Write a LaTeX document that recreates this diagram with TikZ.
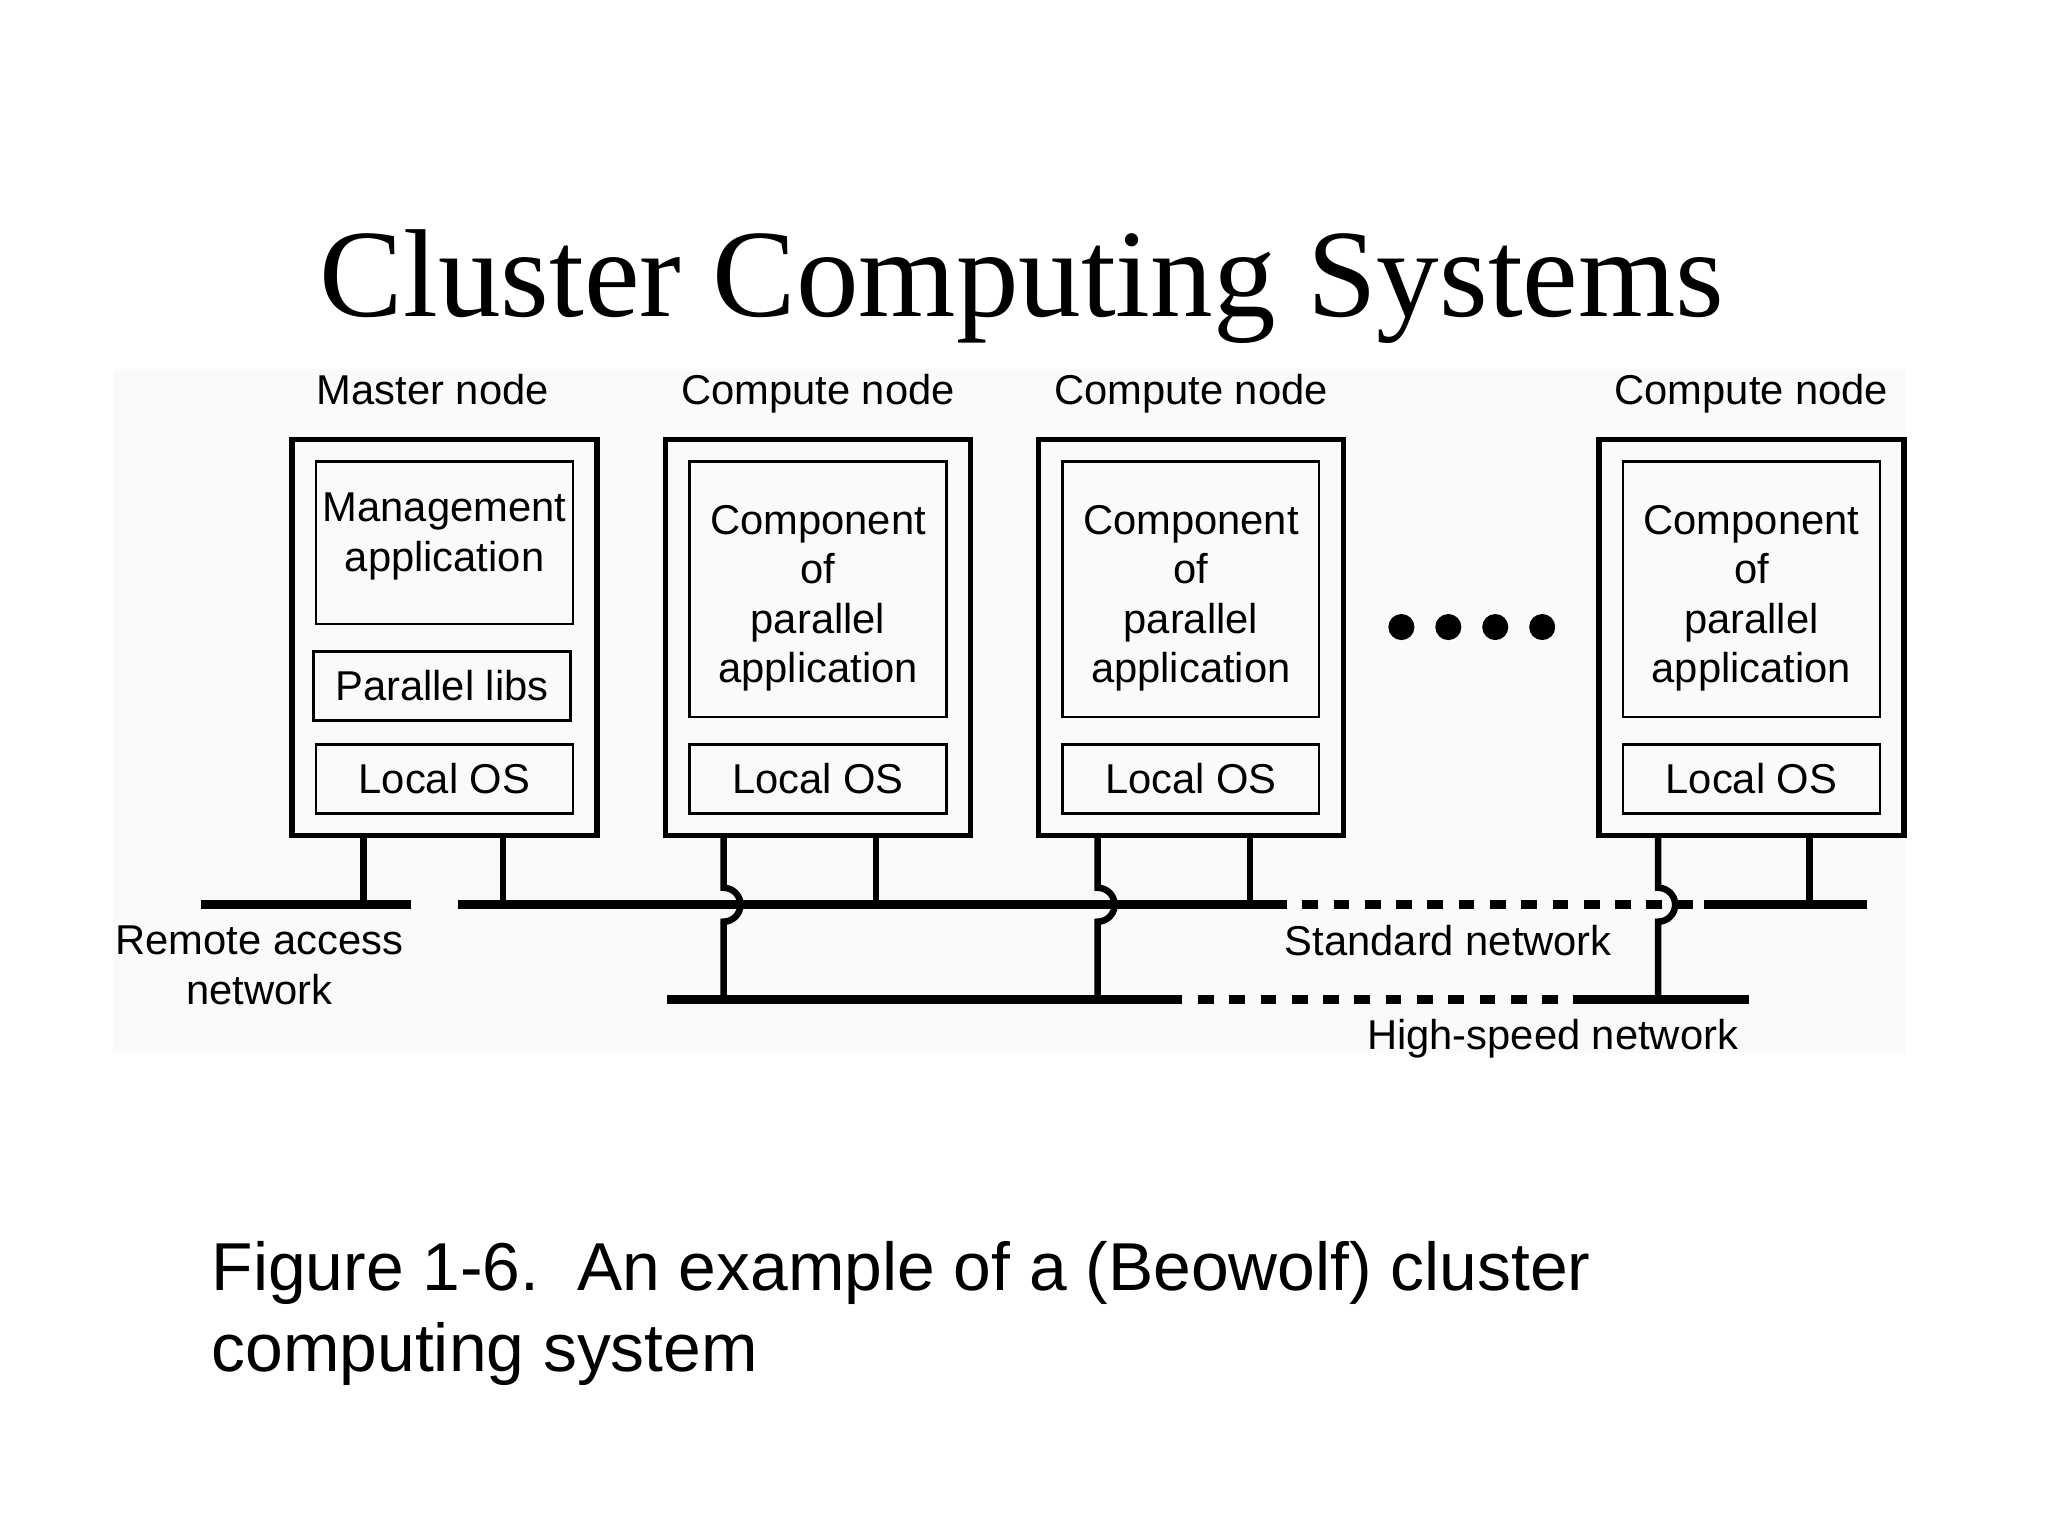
\documentclass[tikz,border=0pt]{standalone}
\usepackage{fontspec}
\setmainfont{Liberation Sans}
\newfontfamily\titlefont{Liberation Serif}
\usetikzlibrary{positioning}
\tikzset{
    node-box/.style = {draw, line width=2pt, rectangle, minimum width=117pt, minimum height=152pt, inner sep=0pt},
    inner-box/.style = {draw, line width=0.9pt, rectangle, minimum width=98.5pt, inner sep=0pt, align=center, font=\fontsize{16}{19}\selectfont},
    node-title/.style = {font=\fontsize{16}{19}\selectfont, inner sep=0pt},
    net-label/.style = {font=\fontsize{16}{19}\selectfont, inner sep=0pt, align=center},
    net-line/.style = {line width=3.5pt},
    net-dashed/.style = {line width=3.5pt, dash pattern=on 6pt off 6pt, dash phase=6pt},
    leg-line/.style = {line width=2.5pt},
}

\begin{document}
\begin{tikzpicture}[x=0.5pt, y=-0.5pt]
\fill[white] (-2,0) rectangle (1569,1178);
\fill[black!2] (85,283) rectangle (1460,808);
\useasboundingbox (-2,0) rectangle (1569,1178);

\node[font=\titlefont\fontsize{48}{58}\selectfont, anchor=base, inner sep=0pt] (title) at (782,243) {Cluster Computing Systems};

\node[node-box] (master) at (339,489) {};
\node[node-box] (comp-a) at (625.5,489) {};
\node[node-box] (comp-b) at (911.5,489) {};
\node[node-box] (comp-c) at (1341.5,489) {};

\node[node-title, above=12.5pt, anchor=base, xshift=-4.5pt] (master-title) at (master.north) {Master node};
\node[node-title, above=12.5pt, anchor=base] (comp-a-title) at (comp-a.north) {Compute node};
\node[node-title, above=12.5pt, anchor=base] (comp-b-title) at (comp-b.north) {Compute node};
\node[node-title, above=12.5pt, anchor=base] (comp-c-title) at (comp-c.north) {Compute node};

\node[inner-box, minimum height=62.5pt, below=9pt] (mgmt) at (master.north) {};
\node[net-label, below=12.5pt] (mgmt-text) at (mgmt.north) {Management\\application};
\node[inner-box, minimum height=26.5pt, below=9.5pt, xshift=-1pt] (libs) at (mgmt.south) {Parallel libs};
\node[inner-box, minimum height=26.5pt, above=9pt] (os-m) at (master.south) {Local OS};

\foreach \nd/\app/\os in {comp-a/app-a/os-a, comp-b/app-b/os-b, comp-c/app-c/os-c} {
    \node[inner-box, minimum height=98pt, below=9pt] (\app) at (\nd.north) {};
    \node[net-label, below=17pt] (\app-text) at (\app.north) {Component\\of\\parallel\\application};
    \node[inner-box, minimum height=26.5pt, above=9pt] (\os) at (\nd.south) {Local OS};
}

\foreach \i in {0,...,3}
    \fill (1073+36*\i,481) circle (5pt);

\coordinate (rem-w) at (152,694);
\coordinate (rem-e) at (313,694);
\coordinate (std-w) at (349,694);
\coordinate (std-gap) at (985,694);
\coordinate (std-gap-end) at (1297,694);
\coordinate (std-resume) at (1305,694);
\coordinate (std-e) at (1430,694);
\coordinate (hs-w) at (510,767);
\coordinate (hs-gap) at (905,767);
\coordinate (hs-gap-end) at (1193,767);
\coordinate (hs-resume) at (1205,767);
\coordinate (hs-e) at (1340,767);

\coordinate (m-rem) at (277,694);
\coordinate (m-std) at (384,694);
\coordinate (a-std) at (670,694);
\coordinate (a-hs) at (553,767);
\coordinate (b-std) at (957,694);
\coordinate (b-hs) at (840,767);
\coordinate (c-std) at (1386,694);
\coordinate (c-hs) at (1270,767);

\draw[net-line] (rem-w) -- (rem-e);
\draw[net-line] (std-w) -- (std-gap);
\draw[net-dashed] (std-gap) -- (std-gap-end);
\draw[net-line] (std-resume) -- (std-e);
\draw[net-line] (hs-w) -- (hs-gap);
\draw[net-dashed] (hs-gap) -- (hs-gap-end);
\draw[net-line] (hs-resume) -- (hs-e);

\draw[leg-line] (master.south -| m-rem) -- (m-rem);
\draw[leg-line] (master.south -| m-std) -- (m-std);
\draw[leg-line] (comp-a.south -| a-std) -- (a-std);
\draw[leg-line] (comp-b.south -| b-std) -- (b-std);
\draw[leg-line] (comp-c.south -| c-std) -- (c-std);
\foreach \nd/\hs in {comp-a/a-hs, comp-b/b-hs, comp-c/c-hs}
    \draw[leg-line] (\nd.south -| \hs) -- ([yshift=6.5pt]\hs |- std-w)
        arc[start angle=-90, end angle=90, radius=13] -- (\hs);

\node[net-label, anchor=north] (remote-label) at (197,710) {Remote access\\network};
\node[node-title, anchor=base] (std-label) at (1109,733) {Standard network};
\node[node-title, anchor=base] (hs-label) at (1189,805) {High-speed network};

\node[anchor=north west, align=left, inner sep=0pt, font=\fontsize{26}{31}\selectfont] (caption) at (160,952) {Figure 1-6.\ \ An example of a (Beowolf) cluster\\computing system};
\end{tikzpicture}
\end{document}
